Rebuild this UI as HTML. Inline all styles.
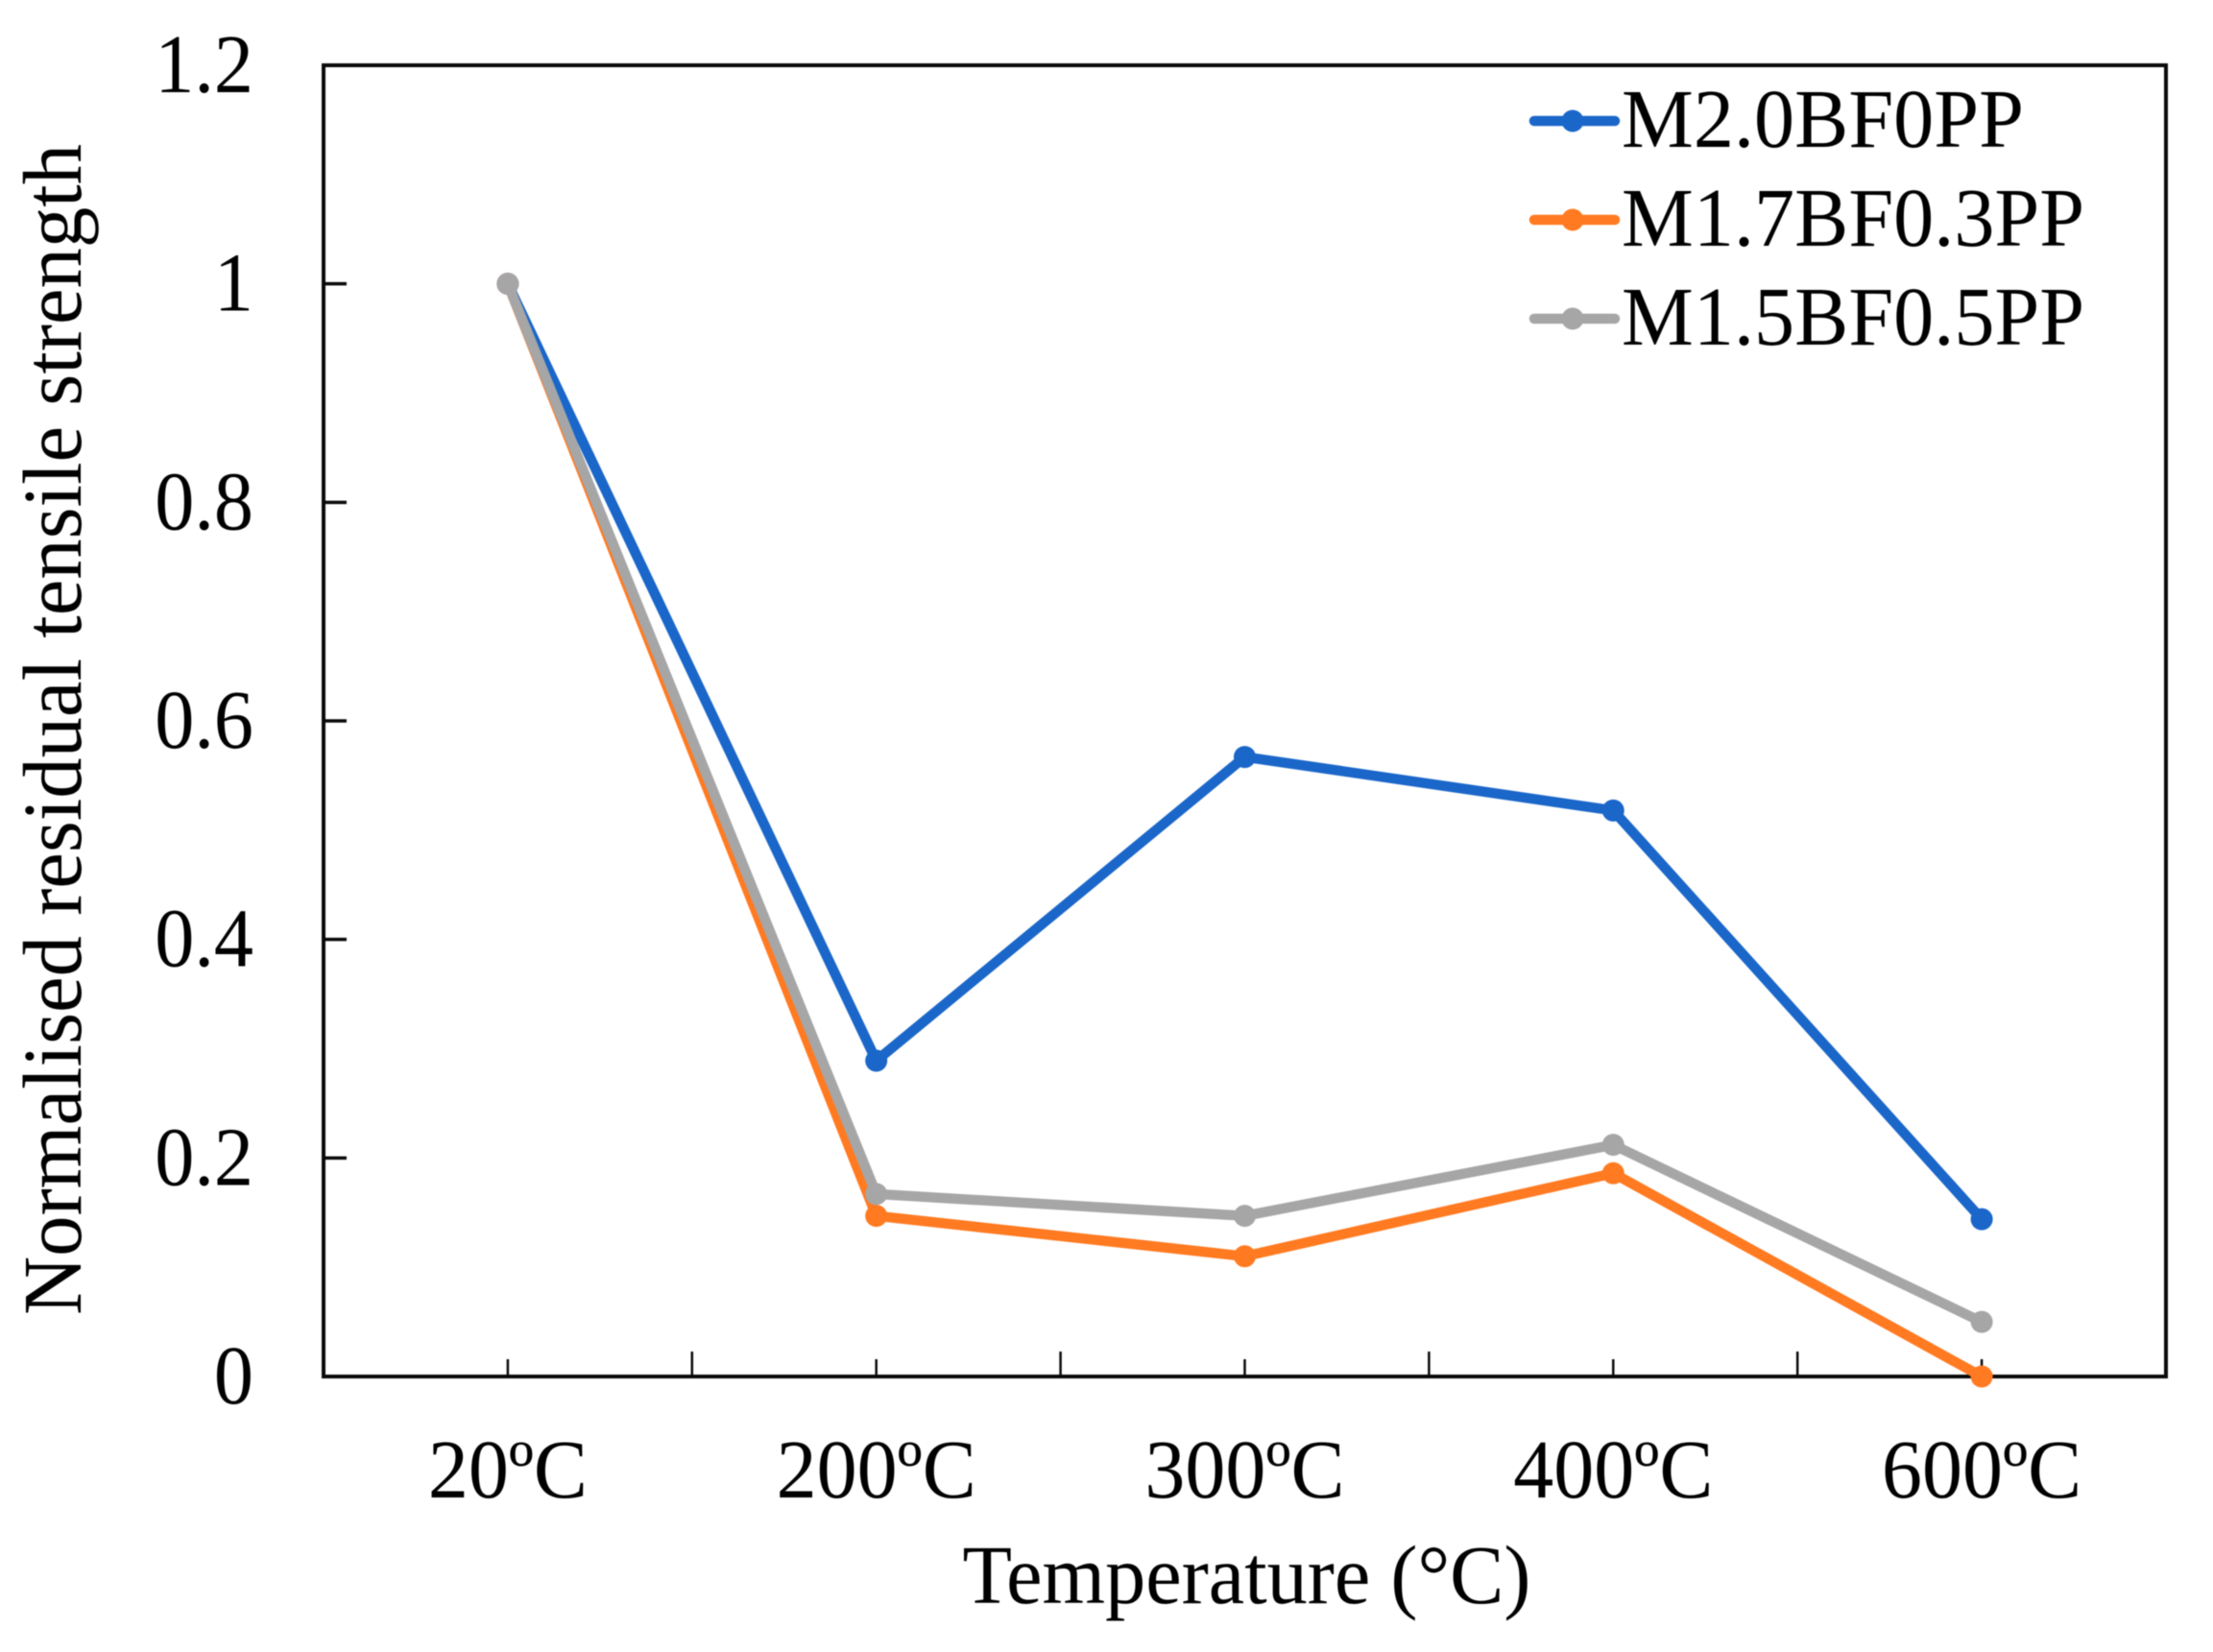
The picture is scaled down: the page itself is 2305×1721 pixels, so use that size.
<!DOCTYPE html>
<html lang="en">
<head>
<meta charset="utf-8">
<title>Normalised residual tensile strength</title>
<style>
html,body{margin:0;padding:0;background:#fff;}
#chart{display:block;width:2305px;height:1721px;filter:blur(0.6px);}
text{font-family:"Liberation Serif",serif;fill:#000;font-size:87px;}
</style>
</head>
<body>
<svg id="chart" xmlns="http://www.w3.org/2000/svg" width="2305" height="1721" viewBox="0 0 2305 1721">
<rect x="0" y="0" width="2305" height="1721" fill="#fff"/>
<g id="ticks"></g>
<rect x="337" y="68" width="1919" height="1366" fill="none" stroke="#0a0a0a" stroke-width="4"/>
<g id="ylabels"></g>
<g id="xlabels"></g>
<g id="series"></g>
<g id="legend"></g>
<text transform="translate(84,760) rotate(-90)" text-anchor="middle" textLength="1220" lengthAdjust="spacingAndGlyphs">Normalised residual tensile strength</text>
<text x="1298.5" y="1670" text-anchor="middle" textLength="592" lengthAdjust="spacingAndGlyphs">Temperature (°C)</text>
</svg>
<script>
const categories = ["20ºC", "200ºC", "300ºC", "400ºC", "600ºC"];
const yTickValues = [0, 0.2, 0.4, 0.6, 0.8, 1, 1.2];
const yTickLabels = ["0", "0.2", "0.4", "0.6", "0.8", "1", "1.2"];
const seriesNames = ["M2.0BF0PP", "M1.7BF0.3PP", "M1.5BF0.5PP"];
const seriesColors = ["#1a66c9", "#ff7a21", "#a6a6a6"];
const valuesM20 = [1, 0.289, 0.567, 0.518, 0.144];
const valuesM17 = [1, 0.147, 0.110, 0.186, 0];
const valuesM15 = [1, 0.167, 0.147, 0.212, 0.050];
const seriesValues = [valuesM20, valuesM17, valuesM15];

const NS = "http://www.w3.org/2000/svg";
const plotLeft = 337, plotRight = 2256, plotTop = 68, plotBottom = 1434;
const yMax = 1.2;
function xBand(i) { return plotLeft + (plotRight - plotLeft) * i / categories.length; }
function xScale(i) { return plotLeft + (plotRight - plotLeft) * (i + 0.5) / categories.length; }
function yScale(v) { return plotBottom - (plotBottom - plotTop) * v / yMax; }
function make(tag, attrs) {
  const el = document.createElementNS(NS, tag);
  for (const k in attrs) el.setAttribute(k, attrs[k]);
  return el;
}
function squeeze(el, ratio) {
  el.setAttribute("textLength", el.getComputedTextLength() * ratio);
  el.setAttribute("lengthAdjust", "spacingAndGlyphs");
}

const ticksG = document.getElementById("ticks");
const yLabelsG = document.getElementById("ylabels");
const xLabelsG = document.getElementById("xlabels");
const seriesG = document.getElementById("series");
const legendG = document.getElementById("legend");

yTickValues.forEach(function (v, i) {
  const y = yScale(v);
  if (v > 0 && v < yMax) {
    const tick = make("line", { x1: plotLeft, x2: 361, y1: y, y2: y, stroke: "#0a0a0a", "stroke-width": 3.5 });
    
    
    ticksG.appendChild(tick);
  }
  const label = make("text", { x: 264, y: y + 28, "text-anchor": "end" });
  
  
  label.textContent = yTickLabels[i];
  yLabelsG.appendChild(label);
  squeeze(label, 0.945);
});

categories.forEach(function (c, i) {
  const cx = xScale(i);
  const tick = make("line", { x1: cx, x2: cx, y1: plotBottom - 18, y2: plotBottom, stroke: "#0a0a0a", "stroke-width": 2.5 });
  
  
  ticksG.appendChild(tick);
  if (i > 0) {
    const bx = xBand(i);
    const sep = make("line", { x1: bx, x2: bx, y1: plotBottom - 26, y2: plotBottom, stroke: "#0a0a0a", "stroke-width": 2.5 });
    
    
    ticksG.appendChild(sep);
  }
  const label = make("text", { x: cx, y: 1560, "text-anchor": "middle" });
  
  
  label.textContent = c;
  xLabelsG.appendChild(label);
  squeeze(label, 0.966);
});

seriesValues.forEach(function (vals, s) {
  const color = seriesColors[s];
  const g = make("g", {});
  
  
  const pts = vals.map(function (v, i) { return xScale(i) + "," + yScale(v); }).join(" ");
  const line = make("polyline", { points: pts, fill: "none", stroke: color, "stroke-width": 10.5, "stroke-linejoin": "round" });
  
  
  g.appendChild(line);
  vals.forEach(function (v, i) {
    const dot = make("circle", { cx: xScale(i), cy: yScale(v), r: 11.5, fill: color });
    
    
    g.appendChild(dot);
  });
  seriesG.appendChild(g);
});

seriesNames.forEach(function (name, s) {
  const color = seriesColors[s];
  const ly = 126 + s * 103;
  const entry = make("g", {});
  
  
  const swatch = make("line", { x1: 1598, x2: 1682, y1: ly, y2: ly, stroke: color, "stroke-width": 10.5, "stroke-linecap": "round" });
  
  
  entry.appendChild(swatch);
  const dot = make("circle", { cx: 1638, cy: ly, r: 11.5, fill: color });
  
  
  entry.appendChild(dot);
  const label = make("text", { x: 1689, y: ly + 27 });
  
  
  label.textContent = name;
  entry.appendChild(label);
  legendG.appendChild(entry);
  squeeze(label, 0.968);
});
</script>
</body>
</html>
